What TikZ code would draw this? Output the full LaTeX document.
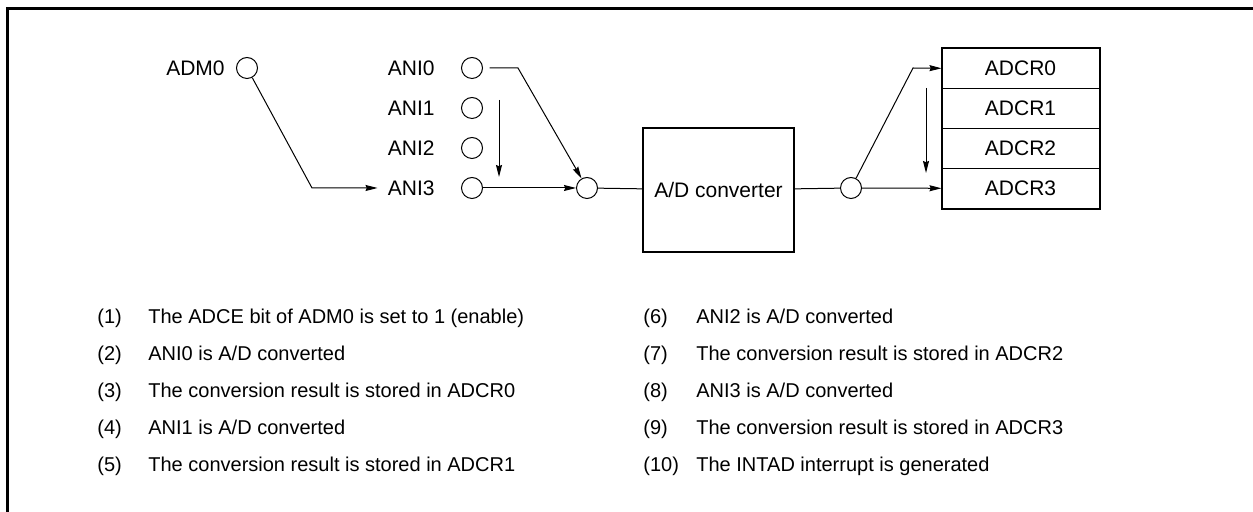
\documentclass[tikz,border=0pt]{standalone}
\usepackage{fontspec}
\setmainfont{Liberation Sans}
\usetikzlibrary{arrows.meta, positioning}

\begin{document}
\begin{tikzpicture}[x=0.5pt, y=-0.5pt,
  pin/.style={circle, draw, line width=0.5pt, minimum size=10.5pt, inner sep=0pt},
  lbl/.style={font=\fontsize{10.5}{12}\selectfont, inner sep=0pt},
  convbox/.style={rectangle, draw, line width=1pt, minimum width=75.5pt, minimum height=62pt,
    inner sep=0pt, font=\fontsize{10.5}{12}\selectfont},
  reg/.style={rectangle, draw, line width=0.5pt, minimum width=78.5pt, minimum height=20pt,
    inner sep=0pt, font=\fontsize{10.5}{12}\selectfont},
  item/.style={anchor=base west, inner sep=0pt, font=\fontsize{10}{12}\selectfont},
  wire/.style={line width=0.5pt},
  >={Stealth[length=6pt, width=3pt, inset=0.6pt]}, node distance=5.5pt
]
  \useasboundingbox (0,0) rectangle (1253,512);
  \draw[line width=1.5pt] (7,512) -- (7,8.5) -- (1253,8.5);

  \node[pin] (adm) at (247,68) {};
  \node[lbl, left=of adm] (admlbl) {ADM0};
  \foreach \i in {0,...,3} {
    \node[pin] (ani\i) at (472,{68+40*\i}) {};
    \node[lbl, left=13pt of ani\i] (lbl\i) {ANI\i};
  }
  \node[pin] (mux) at (587,188) {};
  \node[convbox] (conv) at (718.5,190) {A/D converter};
  \node[pin] (out) at (851,188) {};
  \foreach \i in {0,...,3}
    \node[reg] (adcr\i) at (1020.5,{68.3+40*\i}) {ADCR\i};
  \draw[line width=1pt] (adcr0.north west) rectangle (adcr3.south east);

  \coordinate (admbend) at (312,188);
  \coordinate (anibend) at (518,68);
  \coordinate (scan0) at (499,100);
  \coordinate (scan1) at (499,177);
  \coordinate (outbend) at (913,68);
  \coordinate (scan2) at (926,88);
  \coordinate (scan3) at (926,173);

  \draw[wire, ->, shorten >=5pt] (adm) -- (admbend) -- (lbl3.west);
  \draw[wire, ->] ([xshift=3.3pt]ani0.east) -- (anibend) -- (mux);
  \draw[wire, ->] (scan0) -- (scan1);
  \draw[wire, ->] (ani3) -- (mux);
  \draw[wire] (mux) -- (conv);
  \draw[wire] (conv) -- (out);
  \draw[wire, ->] (out) -- (outbend) -- (adcr0.west);
  \draw[wire, ->] (scan2) -- (scan3);
  \draw[wire, ->] (out) -- (adcr3.west);

  \foreach \k/\y/\txt in {1/324/{The ADCE bit of ADM0 is set to 1 (enable)},
      2/361/{ANI0 is A/D converted}, 3/398/{The conversion result is stored in ADCR0},
      4/435/{ANI1 is A/D converted}, 5/472/{The conversion result is stored in ADCR1}} {
    \node[item] (num\k) at (97,\y) {(\k)};
    \node[item] (step\k) at (148,\y) {\txt};
  }
  \foreach \k/\y/\txt in {6/324/{ANI2 is A/D converted},
      7/361/{The conversion result is stored in ADCR2}, 8/398/{ANI3 is A/D converted},
      9/435/{The conversion result is stored in ADCR3}, 10/472/{The INTAD interrupt is generated}} {
    \node[item] (num\k) at (643,\y) {(\k)};
    \node[item] (step\k) at (696,\y) {\txt};
  }
\end{tikzpicture}
\end{document}
